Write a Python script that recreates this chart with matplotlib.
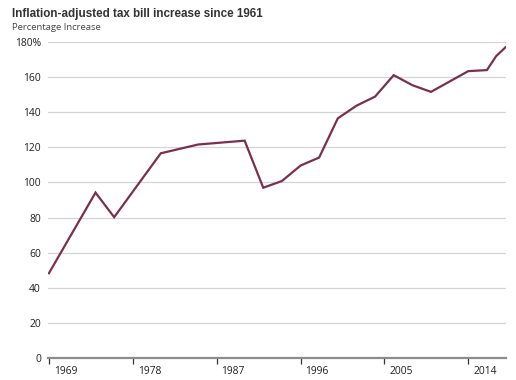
import matplotlib
matplotlib.use("Agg")
import matplotlib.pyplot as plt
import matplotlib.transforms as mtransforms

years = [1969, 1974, 1976, 1981, 1985, 1990, 1992, 1994, 1996, 1998, 2000,
         2002, 2004, 2006, 2008, 2010, 2012, 2014, 2016, 2017, 2018]
values = [48.3, 94.2, 80.2, 116.6, 121.6, 123.8, 97.0, 100.8, 109.6, 114.2, 136.5,
          143.7, 148.9, 161.1, 155.4, 151.6, 157.5, 163.4, 164.0, 172.0, 177.0]

xtick_years = [1969, 1978, 1987, 1996, 2005, 2014]
ytick_vals = [0, 20, 40, 60, 80, 100, 120, 140, 160, 180]
ytick_labels = ["0", "20", "40", "60", "80", "100", "120", "140", "160", "180%"]

title = "Inflation-adjusted tax bill increase since 1961"
subtitle = "Percentage Increase"

fig = plt.figure(figsize=(5.16, 3.80), dpi=100)
ax = fig.add_axes([48 / 516, 1 - 358 / 380, (506 - 48) / 516, (358 - 42) / 380])

ax.plot(years, values, color="#7a2f4e", lw=1.6, solid_joinstyle="miter", zorder=3)

ax.set_xlim(1968.9, 2018.05)
ax.set_ylim(0, 180)

ax.set_yticks(ytick_vals)
ax.set_yticklabels(ytick_labels)
ax.set_xticks(xtick_years)
ax.set_xticklabels([str(y) for y in xtick_years])

for s in ["top", "right", "left"]:
    ax.spines[s].set_visible(False)
ax.spines["bottom"].set_color("#8c8c8c")
ax.spines["bottom"].set_linewidth(1.6)
ax.spines["bottom"].set_zorder(4)

ax.yaxis.grid(True, color="#d4d4d4", lw=0.9)
ax.set_axisbelow(True)

ax.tick_params(axis="y", length=0, pad=5, labelsize=7.4, labelcolor="#1e1e1e")
ax.tick_params(axis="x", length=4.5, width=0.9, color="#333333", pad=1,
               labelsize=7.4, labelcolor="#1e1e1e", direction="out")

offset = mtransforms.ScaledTranslation(3.5 / 72, 0, fig.dpi_scale_trans)
for lbl in ax.get_xticklabels():
    lbl.set_horizontalalignment("left")
    lbl.set_transform(lbl.get_transform() + offset)

for lbl in ax.get_xticklabels() + ax.get_yticklabels():
    lbl.set_family(["Open Sans", "DejaVu Sans"])

fig.text(12 / 516, 1 - 17.5 / 380, title, fontsize=8.4, fontweight="bold",
         color="#333333", family=["Liberation Sans Narrow", "Liberation Sans", "DejaVu Sans"],
         ha="left", va="baseline")
fig.text(12 / 516, 1 - 29.5 / 380, subtitle, fontsize=6.8, color="#444444",
         family=["Open Sans", "DejaVu Sans"], ha="left", va="baseline")

fig.savefig("out.png", dpi=100)
